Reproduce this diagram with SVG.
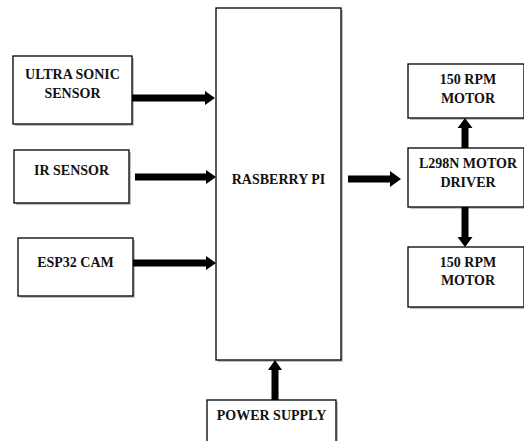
<svg xmlns="http://www.w3.org/2000/svg" width="524" height="441" viewBox="0 0 524 441">
<defs>
<style>
.box{fill:#fff;stroke:#000;stroke-width:1.3}
.sh{fill:#9a9a9a;opacity:0.6}
.ar{fill:#000}
</style>
</defs>
<rect width="524" height="441" fill="#fff"/>
<g font-family="Liberation Serif" font-weight="bold" font-size="14" fill="#111" text-anchor="middle">
<g id="ultrasonic">
<rect class="sh" x="15" y="58" width="119" height="68"/>
<rect class="box" x="13" y="56" width="119" height="68"/>
<text x="72.5" y="79">ULTRA SONIC</text>
<text x="72.5" y="98">SENSOR</text>
</g>
<g id="ir">
<rect class="sh" x="16" y="152" width="115" height="53"/>
<rect class="box" x="14" y="150" width="115" height="53"/>
<text x="71.5" y="175">IR SENSOR</text>
</g>
<g id="esp32">
<rect class="sh" x="20" y="240" width="115" height="58"/>
<rect class="box" x="18" y="238" width="115" height="58"/>
<text x="75.5" y="267">ESP32 CAM</text>
</g>
<g id="raspberry">
<rect class="sh" x="218" y="10" width="125" height="352"/>
<rect class="box" x="216" y="8" width="125" height="352"/>
<text x="278.5" y="184">RASBERRY PI</text>
</g>
<g id="power">
<rect class="sh" x="209" y="402" width="129" height="45"/>
<rect class="box" x="207" y="400" width="129" height="45"/>
<text x="271.5" y="420">POWER SUPPLY</text>
</g>
<g id="motor1">
<rect class="sh" x="410" y="66" width="116" height="54"/>
<rect class="box" x="408" y="64" width="116" height="54"/>
<text x="468" y="84">150 RPM</text>
<text x="468" y="103">MOTOR</text>
</g>
<g id="driver">
<rect class="sh" x="410" y="150" width="116" height="59"/>
<rect class="box" x="408" y="148" width="116" height="59"/>
<text x="468" y="168">L298N MOTOR</text>
<text x="468" y="187">DRIVER</text>
</g>
<g id="motor2">
<rect class="sh" x="410" y="249" width="116" height="60"/>
<rect class="box" x="408" y="247" width="116" height="60"/>
<text x="468" y="267">150 RPM</text>
<text x="468" y="285">MOTOR</text>
</g>
</g>
<g id="connectors">
<polygon class="ar" points="132,94.5 205,94.5 205,91 215,98 205,105 205,101.5 132,101.5"/>
<polygon class="ar" points="135,173.5 206,173.5 206,170 216,177 206,184 206,180.5 135,180.5"/>
<polygon class="ar" points="133,259.5 206,259.5 206,256 216,263 206,270 206,266.5 133,266.5"/>
<polygon class="ar" points="348,175.5 390,175.5 390,171 401,179 390,187 390,182.5 348,182.5"/>
<polygon class="ar" points="461.5,148 461.5,128 457.5,128 465,118 472.5,128 468.5,128 468.5,148"/>
<polygon class="ar" points="461.5,207 461.5,237 457.5,237 465,247 472.5,237 468.5,237 468.5,207"/>
<polygon class="ar" points="271.5,400 271.5,370 268,370 275,360 282,370 278.5,370 278.5,400"/>
</g>
</svg>
